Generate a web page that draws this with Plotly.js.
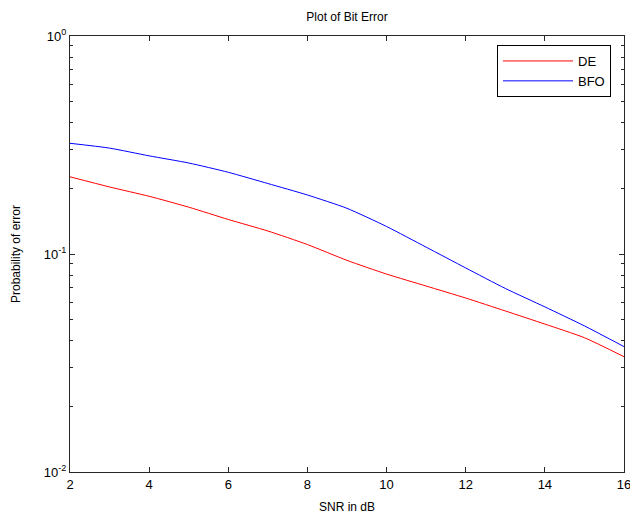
<!DOCTYPE html>
<html>
<head>
<meta charset="utf-8">
<script src="https://cdn.plot.ly/plotly-3.0.1.min.js"></script>
<style>
html,body{margin:0;padding:0;background:#fff;}
#chart{width:630px;height:517px;}
</style>
</head>
<body>
<div id="chart"></div>
<script>
const snr = [2,3,4,5,6,7,8,9,10,11,12,13,14,15,16];
const deValues  = [0.226,0.203,0.184,0.164,0.144,0.1275,0.1105,0.0935,0.0809,0.0713,0.0628,0.0548,0.0477,0.0413,0.0338];
const bfoValues = [0.322,0.306,0.282,0.2615,0.237,0.2105,0.1865,0.162,0.1337,0.1075,0.0863,0.0695,0.0572,0.0468,0.0376];
const xTicks = [2,4,6,8,10,12,14,16];
const yTickVals = [0.01,0.1,1];
const yTickText = ['10<sup>-2</sup>','10<sup>-1</sup>','10<sup>0</sup>'];
const yMinorVals = [0.02,0.03,0.04,0.05,0.06,0.07,0.08,0.09,0.2,0.3,0.4,0.5,0.6,0.7,0.8,0.9];

const font = {family:'Liberation Sans, Arial, sans-serif', size:12, color:'#000'};
const axisColor = '#262626';

const traces = [
  {x:snr, y:deValues, name:'DE', mode:'lines', line:{color:'#ff0000', width:1, shape:'spline', smoothing:0.6}},
  {x:snr, y:bfoValues, name:'BFO', mode:'lines', line:{color:'#0000ff', width:1, shape:'spline', smoothing:0.6}}
];

const layout = {
  width:630, height:517,
  margin:{l:70, r:6, t:36, b:45},
  paper_bgcolor:'#fff', plot_bgcolor:'#fff',
  font:font,
  showlegend:true,
  title:{text:'Plot of Bit Error', font:{family:font.family, size:12, color:'#000'},
         x:0.5, xref:'paper', xanchor:'center', y:1-17/517, yref:'container', yanchor:'middle'},
  xaxis:{
    range:[2,16], tickmode:'array', tickvals:xTicks, ticktext:xTicks.map(String),
    ticks:'inside', ticklen:5, tickcolor:axisColor, tickwidth:1,
    showline:true, linecolor:axisColor, linewidth:1, mirror:'ticks',
    showgrid:false, zeroline:false, ticklabeloverflow:'allow',
    tickfont:{family:font.family, size:13, color:'#000'},
    title:{text:'SNR in dB', font:{family:font.family, size:12, color:'#000'}, standoff:12}
  },
  yaxis:{
    type:'log', range:[-2,0], tickmode:'array', tickvals:yTickVals, ticktext:yTickText,
    ticks:'inside', ticklen:5, tickcolor:axisColor, tickwidth:1,
    showline:true, linecolor:axisColor, linewidth:1, mirror:'ticks',
    showgrid:false, zeroline:false,
    minor:{tickmode:'array', tickvals:yMinorVals, ticks:'inside', ticklen:3, tickcolor:axisColor, showgrid:false},
    tickfont:{family:font.family, size:13, color:'#000'},
    title:{text:'Probability of error', font:{family:font.family, size:12, color:'#000'}, standoff:20}
  },
  legend:{
    x:(611-70)/554, xref:'paper', xanchor:'right',
    y:1-(45-36)/436, yref:'paper', yanchor:'top',
    bordercolor:'#000', borderwidth:1, bgcolor:'#fff',
    font:{family:font.family, size:13, color:'#000'},
    itemwidth:70,
    tracegroupgap:0
  }
};

Plotly.newPlot('chart', traces, layout, {displayModeBar:false, staticPlot:true});
</script>
</body>
</html>
